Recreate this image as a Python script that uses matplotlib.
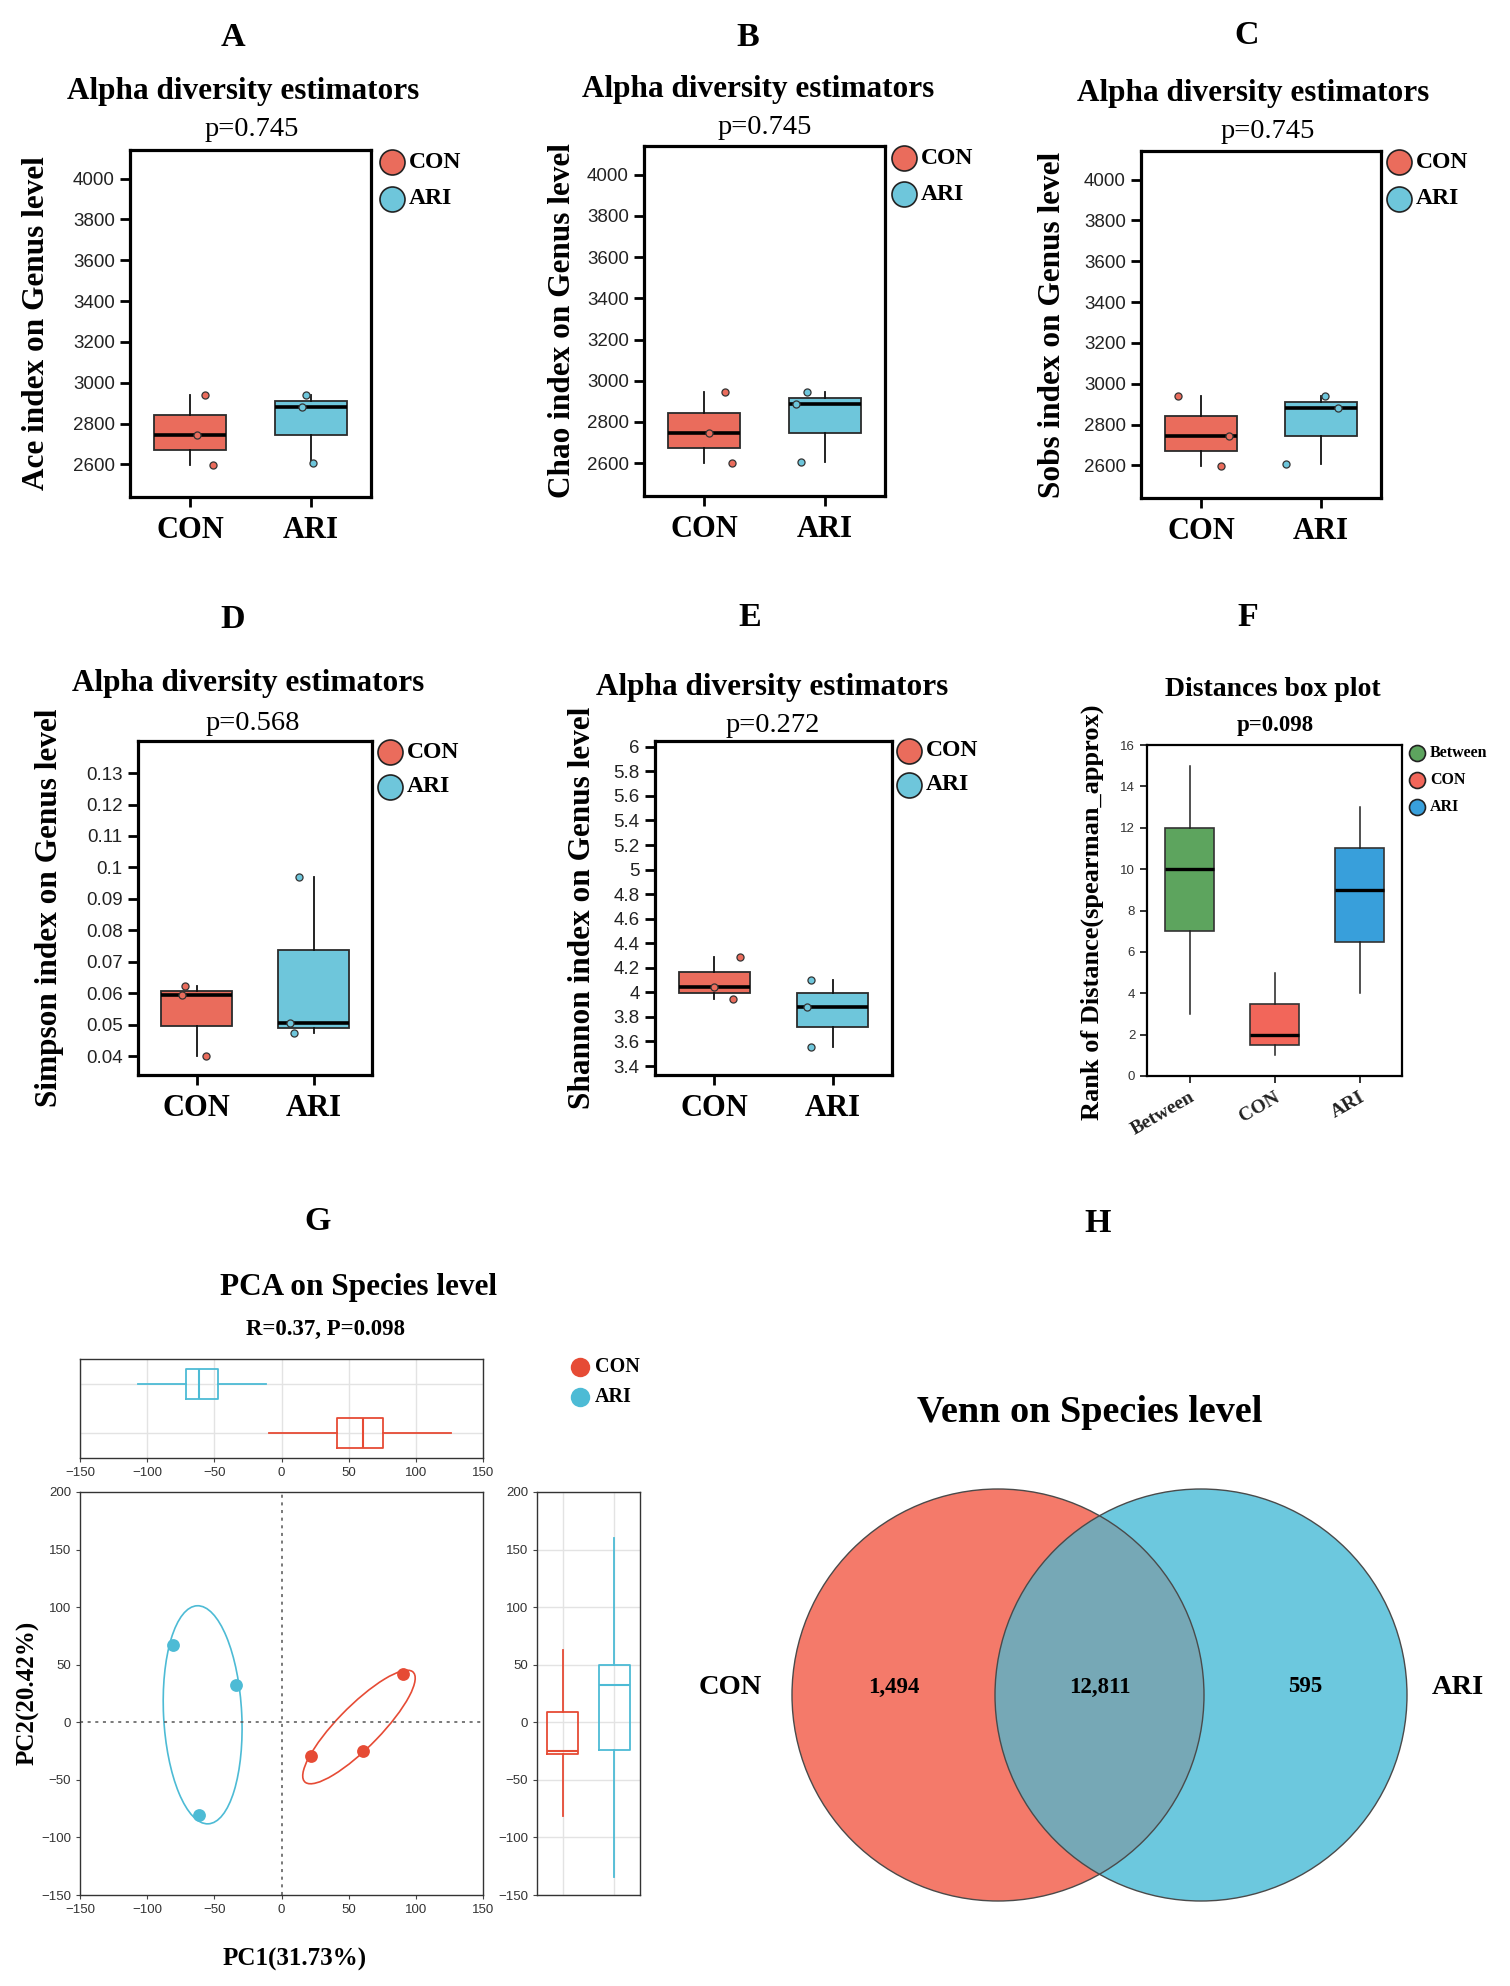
import numpy as np
import matplotlib
matplotlib.use('Agg')
import matplotlib.pyplot as plt
from matplotlib.patches import Circle, Ellipse
from matplotlib.ticker import FuncFormatter

SERIF = 'Liberation Serif'
SANS = 'Liberation Sans'
plt.rcParams['font.family'] = SANS

W, H = 1510, 1986

# ---------------- data ----------------
GROUPS = ['CON', 'ARI']

ACE_CON = [2596, 2746, 2942]
ACE_ARI = [2609, 2882, 2942]
CHAO_CON = [2598, 2746, 2944]
CHAO_ARI = [2607, 2885, 2944]
SOBS_CON = [2597, 2744, 2939]
SOBS_ARI = [2608, 2883, 2939]
SIMPSON_CON = [0.0400, 0.0593, 0.0622]
SIMPSON_ARI = [0.0473, 0.0505, 0.0970]
SHANNON_CON = [3.946, 4.040, 4.287]
SHANNON_ARI = [3.552, 3.879, 4.103]

P_ACE, P_CHAO, P_SOBS, P_SIMPSON, P_SHANNON = 0.745, 0.745, 0.745, 0.568, 0.272

DIST_GROUPS = ['Between', 'CON', 'ARI']
DIST_BETWEEN = [3, 6, 7, 8, 10, 11, 12, 14, 15]
DIST_CON = [1, 2, 5]
DIST_ARI = [4, 9, 13]
P_DIST = 0.098

PCA_CON_X = [22.3, 60.5, 90.2]
PCA_CON_Y = [-29.7, -24.7, 42.1]
PCA_ARI_X = [-81.1, -33.6, -61.4]
PCA_ARI_Y = [66.9, 32.8, -80.2]
PC1_VAR, PC2_VAR = 31.73, 20.42
ANOSIM_R, ANOSIM_P = 0.37, 0.098

VENN_SETS = ['CON', 'ARI']
VENN_ONLY = [1494, 595]
VENN_SHARED = 12811

# ---------------- styles ----------------
RED, BLUE = '#EA6C5C', '#6EC6DB'
DIST_COLORS = ['#5DA45E', '#F2665A', '#389FDB']
PCA_RED, PCA_BLUE = '#E64B35', '#4DBBD5'
VENN_RED, VENN_BLUE, VENN_MIX = '#F47A6A', '#6CC8DE', '#76A8B6'
ELL_K = 1.23

# jitter of the sample dots (same order as data)
JIT_ACE = ([0.19, 0.06, 0.12], [0.02, -0.07, -0.04])
JIT_CHAO = ([0.23, 0.04, 0.17], [-0.20, -0.24, -0.15])
JIT_SOBS = ([0.17, 0.23, -0.19], [-0.29, 0.14, 0.03])
JIT_SIMPSON = ([0.08, -0.12, -0.10], [-0.17, -0.20, -0.12])
JIT_SHANNON = ([0.16, 0.0, 0.22], [-0.18, -0.22, -0.18])

fig = plt.figure(figsize=(W / 100, H / 100), dpi=100)
over = fig.add_axes([0, 0, 1, 1])
over.set_xlim(0, W)
over.set_ylim(H, 0)
over.axis('off')


def add_ax(l, t, r, b):
    return fig.add_axes([l / W, 1 - b / H, (r - l) / W, (b - t) / H])


def txt(x, y, s, size, bold=True, family=SERIF, **kw):
    kw.setdefault('ha', 'center')
    kw.setdefault('va', 'center')
    over.text(x, y, s, fontsize=size, fontweight='bold' if bold else 'normal',
              family=family, **kw)


def legend(x, ys, labels, colors, ms, size, dx, edge='#222222'):
    for y, lab, c in zip(ys, labels, colors):
        over.plot([x], [y], 'o', ms=ms, mfc=c, mec=edge, mew=1.2 if edge != 'none' else 0)
        txt(x + dx, y, lab, size, ha='left')


def alpha_panel(box, con, ari, jit, ylim, yticks, ylabel, ylabel_x, letter, letter_xy,
                title_xy, pval, p_xy, leg_x, leg_ys):
    ax = add_ax(*box)
    bp = ax.boxplot([con, ari], positions=[1, 2], widths=0.6, patch_artist=True,
                    showcaps=False, showfliers=False,
                    boxprops=dict(edgecolor='#2b2b2b', linewidth=1.3),
                    whiskerprops=dict(color='#111111', linewidth=1.3),
                    medianprops=dict(color='black', linewidth=2.6))
    for patch, c in zip(bp['boxes'], [RED, BLUE]):
        patch.set_facecolor(c)
    for i, (vals, c) in enumerate(zip([con, ari], [RED, BLUE])):
        ax.scatter(i + 1 + np.array(jit[i]), vals, s=26, color=c, edgecolors='#333333',
                   linewidths=0.9, zorder=4)
    ax.set_xlim(0.5, 2.5)
    ax.set_ylim(*ylim)
    ax.set_yticks(yticks)
    ax.yaxis.set_major_formatter(FuncFormatter(lambda v, _: f'{v:g}'))
    ax.set_xticks([1, 2])
    ax.set_xticklabels(GROUPS, fontfamily=SERIF, fontweight='bold', fontsize=22)
    for s in ax.spines.values():
        s.set_linewidth(2.3)
    ax.tick_params(axis='both', length=7, width=2.0, colors='black')
    ax.tick_params(axis='y', labelsize=13.5, pad=4, labelcolor='#222222')
    ax.tick_params(axis='x', pad=7)
    l, t, r, b = box
    txt(ylabel_x, (t + b) / 2, ylabel, 22.5, rotation=90)
    txt(*letter_xy, letter, 24.5)
    txt(*title_xy, 'Alpha diversity estimators', 22.5)
    txt(*p_xy, f'p={pval:.3f}', 20.5, bold=False)
    legend(leg_x, leg_ys, GROUPS, [RED, BLUE], 18, 17, 17)
    return ax


ace_ticks = np.arange(2600, 4001, 200)
alpha_panel((130, 150, 371, 497), ACE_CON, ACE_ARI, JIT_ACE, (2440, 4140), ace_ticks,
            'Ace index on Genus level', 37, 'A', (233, 37), (243, 91), P_ACE, (252, 129),
            392, (162, 199))
alpha_panel((644, 146, 885, 496), CHAO_CON, CHAO_ARI, JIT_CHAO, (2440, 4140), ace_ticks,
            'Chao index on Genus level', 562, 'B', (748, 37), (758, 90), P_CHAO, (765, 127),
            904, (158, 194))
alpha_panel((1141, 151, 1381, 498), SOBS_CON, SOBS_ARI, JIT_SOBS, (2440, 4140), ace_ticks,
            'Sobs index on Genus level', 1052, 'C', (1247, 35), (1253, 93), P_SOBS, (1268, 132),
            1399, (162, 199))
alpha_panel((138, 741, 372, 1075), SIMPSON_CON, SIMPSON_ARI, JIT_SIMPSON, (0.034, 0.1402),
            np.round(np.arange(0.04, 0.1301, 0.01), 2),
            'Simpson index on Genus level', 50, 'D', (233, 619), (248, 684), P_SIMPSON, (253, 723),
            390, (752, 787))
alpha_panel((655, 741, 892, 1075), SHANNON_CON, SHANNON_ARI, JIT_SHANNON, (3.327, 6.047),
            np.round(np.arange(3.4, 6.01, 0.2), 1),
            'Shannon index on Genus level', 582, 'E', (750, 617), (772, 687), P_SHANNON, (773, 725),
            909, (751, 785))

# ---------------- F: distances box plot ----------------
axf = add_ax(1147, 745, 1402, 1076)
bp = axf.boxplot([DIST_BETWEEN, DIST_CON, DIST_ARI], positions=[1, 2, 3], widths=0.58,
                 patch_artist=True, showcaps=False, showfliers=False,
                 boxprops=dict(edgecolor='#333333', linewidth=1.2),
                 whiskerprops=dict(color='#222222', linewidth=1.1),
                 medianprops=dict(color='black', linewidth=2.4))
for patch, c in zip(bp['boxes'], DIST_COLORS):
    patch.set_facecolor(c)
axf.set_xlim(0.5, 3.5)
axf.set_ylim(0, 16)
axf.set_yticks(np.arange(0, 17, 2))
axf.set_xticks([1, 2, 3])
axf.set_xticklabels(DIST_GROUPS, fontfamily=SERIF, fontweight='bold', fontsize=14,
                    rotation=30, ha='right', rotation_mode='anchor')
for s in axf.spines.values():
    s.set_linewidth(1.6)
axf.tick_params(axis='both', length=5, width=1.3, colors='#222222')
axf.tick_params(axis='y', labelsize=9.5, labelcolor='#333333')
axf.tick_params(axis='x', pad=4)
txt(1092, 912, 'Rank of Distance(spearman_approx)', 19, rotation=90)
txt(1248, 617, 'F', 24.5)
txt(1273, 690, 'Distances box plot', 20)
txt(1275, 726, f'p={P_DIST:.3f}', 16.5)
legend(1417, (753, 780, 807), DIST_GROUPS, DIST_COLORS, 11.5, 11.5, 13)

# ---------------- G: PCA ----------------
def box_stats(vals):
    q1, med, q3 = np.percentile(vals, [25, 50, 75])
    iqr = q3 - q1
    return dict(med=med, q1=q1, q3=q3, whislo=q1 - 1.5 * iqr, whishi=q3 + 1.5 * iqr, fliers=[])


def marginal(ax, data, orientation):
    res = ax.bxp([box_stats(v) for v in data], positions=[1, 2], widths=0.6,
                 orientation=orientation, showcaps=False, showfliers=False)
    for i, c in enumerate([PCA_RED, PCA_BLUE]):
        res['boxes'][i].set(color=c, lw=1.3)
        res['medians'][i].set(color=c, lw=1.5)
        for w in res['whiskers'][2 * i:2 * i + 2]:
            w.set(color=c, lw=1.3)


def style_pca(ax):
    for s in ax.spines.values():
        s.set_color('#333333')
        s.set_linewidth(1.0)
    ax.tick_params(length=3, width=0.8, colors='#444444', labelsize=9.5, labelcolor='#333333')


axm = add_ax(80, 1492, 483, 1895)
for xs, ys, c in ((PCA_CON_X, PCA_CON_Y, PCA_RED), (PCA_ARI_X, PCA_ARI_Y, PCA_BLUE)):
    axm.scatter(xs, ys, s=85, color=c, zorder=3, linewidths=0)
    vals, vecs = np.linalg.eigh(np.cov(xs, ys))
    ang = np.degrees(np.arctan2(vecs[1, 1], vecs[0, 1]))
    axm.add_patch(Ellipse((np.mean(xs), np.mean(ys)), 2 * ELL_K * np.sqrt(vals[1]),
                          2 * ELL_K * np.sqrt(vals[0]), angle=ang, fill=False,
                          edgecolor=c, lw=1.2))
axm.axhline(0, color='#555555', lw=1.1, ls=(0, (2, 3)), zorder=1)
axm.axvline(0, color='#555555', lw=1.1, ls=(0, (2, 3)), zorder=1)
axm.set_xlim(-150, 150)
axm.set_ylim(-150, 200)
axm.set_xticks(np.arange(-150, 151, 50))
axm.set_yticks(np.arange(-150, 201, 50))
style_pca(axm)

axt = add_ax(80, 1359, 483, 1458)
marginal(axt, [PCA_CON_X, PCA_ARI_X], 'horizontal')
axt.set_xlim(-150, 150)
axt.set_ylim(0.5, 2.5)
axt.set_xticks(np.arange(-150, 151, 50))
axt.set_yticks([1, 2])
axt.set_axisbelow(True)
axt.grid(True, color='#E3E3E3', lw=1.0)
style_pca(axt)
axt.tick_params(axis='y', length=0, labelleft=False)

axr = add_ax(537, 1492, 640, 1895)
marginal(axr, [PCA_CON_Y, PCA_ARI_Y], 'vertical')
axr.set_xlim(0.5, 2.5)
axr.set_ylim(-150, 200)
axr.set_yticks(np.arange(-150, 201, 50))
axr.set_xticks([1, 2])
axr.set_axisbelow(True)
axr.grid(True, color='#E3E3E3', lw=1.0)
style_pca(axr)
axr.tick_params(axis='x', length=0, labelbottom=False)

txt(318, 1221, 'G', 24.5)
txt(359, 1288, 'PCA on Species level', 22.5)
txt(325, 1329, f'R={ANOSIM_R:.2f}, P={ANOSIM_P:.3f}', 16.5)
txt(295, 1959, f'PC1({PC1_VAR:.2f}%)', 18)
txt(28, 1693, f'PC2({PC2_VAR:.2f}%)', 18, rotation=90)
legend(580, (1367, 1397), GROUPS, [PCA_RED, PCA_BLUE], 14, 14.5, 15, edge='none')

# ---------------- H: Venn ----------------
(cx1, cx2), cy, rad = (998, 1201), 1695, 206
c_red = Circle((cx1, cy), rad, fc=VENN_RED, ec='none')
c_blue = Circle((cx2, cy), rad, fc=VENN_BLUE, ec='none')
lens = Circle((cx2, cy), rad, fc=VENN_MIX, ec='none')
over.add_patch(c_red)
over.add_patch(c_blue)
over.add_patch(lens)
lens.set_clip_path(c_red)
for cx in (cx1, cx2):
    over.add_patch(Circle((cx, cy), rad, fill=False, ec='#4a4a4a', lw=1.0))

ny = cy - 8
txt((cx1 - rad + cx2 - rad) / 2, ny, f'{VENN_ONLY[0]:,}', 16.5)
txt((cx2 - rad + cx1 + rad) / 2, ny, f'{VENN_SHARED:,}', 16.5)
txt((cx1 + rad + cx2 + rad) / 2, ny, f'{VENN_ONLY[1]:,}', 16.5)
txt(730, ny, VENN_SETS[0], 20.5)
txt(1458, ny, VENN_SETS[1], 20.5)
txt(1098, 1223, 'H', 24.5)
txt(1090, 1413, 'Venn on Species level', 27.5)

fig.savefig('out.png', dpi=100)
